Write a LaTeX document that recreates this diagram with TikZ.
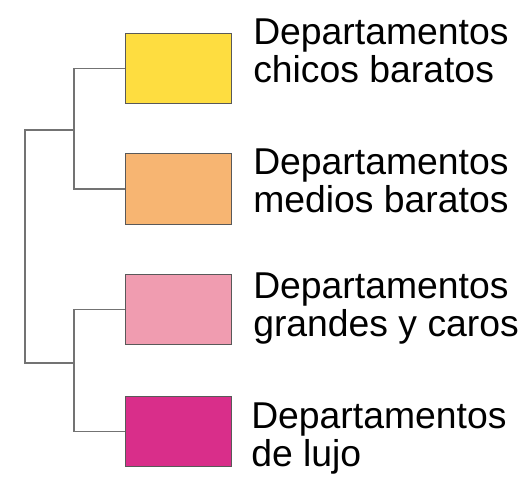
\documentclass[tikz,border=0pt]{standalone}
\usepackage{fontspec}
\setmainfont{Liberation Sans}
\definecolor{chico}{RGB}{254,221,64}
\definecolor{medio}{RGB}{247,181,114}
\definecolor{grande}{RGB}{240,156,176}
\definecolor{lujo}{RGB}{217,46,138}
\tikzset{
  depto/.style={draw=black!65, line width=0.9pt, rectangle, minimum width=80pt, minimum height=53pt, inner sep=0pt},
  etiqueta/.style={anchor=base west, align=left, inner sep=0pt, font=\fontsize{28}{28}\selectfont},
  rama/.style={draw=black!55, line width=1.4pt}
}
\begin{document}
\begin{tikzpicture}[x=0.75pt, y=-0.75pt]
	\useasboundingbox (0,0) rectangle (529,490);
	\node (chicos) [depto, fill=chico] at (178.5,68.5) {};
	\node (medios) [depto, fill=medio] at (178.5,189) {};
	\node (grandes) [depto, fill=grande] at (178.5,309.5) {};
	\node (lujo) [depto, fill=lujo] at (178.5,431.5) {};
	
	% base = baseline of the last line
	\node (tchicos) [etiqueta] at (253,82) {Departamentos\\chicos baratos};
	\node (tmedios) [etiqueta] at (253,212) {Departamentos\\medios baratos};
	\node (tgrandes) [etiqueta] at (253,336) {Departamentos\\grandes y caros};
	\node (tlujo) [etiqueta] at (251,466) {Departamentos\\de lujo};
	
	\coordinate (jbaratos) at (74,130);
	\coordinate (jcaros) at (74,363);
	\coordinate (raiz1) at (25,130);
	\coordinate (raiz2) at (25,363);
	
	\draw[rama] (chicos.west) -| (jbaratos) |- (medios.west);
	\draw[rama] (grandes.west) -| (jcaros) |- (lujo.west);
	\draw[rama] (jbaratos) -- (raiz1) -- (raiz2) -- (jcaros);
\end{tikzpicture}
\end{document}
